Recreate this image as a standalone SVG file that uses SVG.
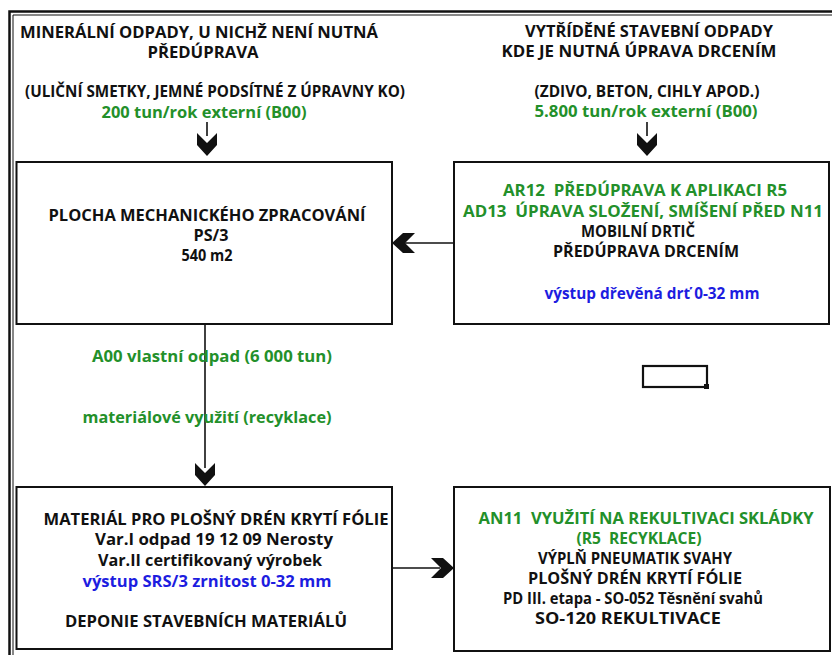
<svg xmlns="http://www.w3.org/2000/svg" width="832" height="655" viewBox="0 0 832 655">
<style>
text{font-family:"Open Sans","Liberation Sans",sans-serif;font-weight:700;font-size:15.5px;fill:#111;text-anchor:middle;white-space:pre}
.g{fill:#23902a}
.b{fill:#1d1de0}
.box{fill:#fff;stroke:#111;stroke-width:2}
.ln{stroke:#111;stroke-width:1.6;fill:none}
.ah{fill:#111}
</style>
<rect width="832" height="655" fill="#fff"/>
<g id="frame">
<path d="M9.5,655 V11.5 H832" fill="none" stroke="#111" stroke-width="2.5"/>
<path d="M13,655 V15 H832" fill="none" stroke="#111" stroke-width="1"/>
</g>
<g id="connectors">
<line class="ln" x1="207" y1="122" x2="207" y2="136"/>
<polygon class="ah" points="197,133 207,143 217,133 217,145 207,156 197,145"/>
<line class="ln" x1="647" y1="122" x2="647" y2="136"/>
<polygon class="ah" points="637,133 647,143 657,133 657,145 647,156 637,145"/>
<line class="ln" x1="454" y1="243" x2="405" y2="243"/>
<polygon class="ah" points="415,233 405,243 415,253 403,253 392,243 403,233"/>
<line class="ln" x1="205" y1="324" x2="205" y2="468"/>
<polygon class="ah" points="195,463 205,473 215,463 215,475 205,486 195,475"/>
<line class="ln" x1="392" y1="568" x2="440" y2="568"/>
<polygon class="ah" points="431,558 441,568 431,578 443,578 454,568 443,558"/>
</g>
<g id="src-left">
<text x="199" y="38" textLength="358" lengthAdjust="spacingAndGlyphs">MINERÁLNÍ ODPADY, U NICHŽ NENÍ NUTNÁ</text>
<text x="203" y="58" textLength="111" lengthAdjust="spacingAndGlyphs">PŘEDÚPRAVA</text>
<text x="215" y="97" textLength="380" lengthAdjust="spacingAndGlyphs">(ULIČNÍ SMETKY, JEMNÉ PODSÍTNÉ Z ÚPRAVNY KO)</text>
<text class="g" x="204" y="118" textLength="205" lengthAdjust="spacingAndGlyphs">200 tun/rok externí (B00)</text>
</g>
<g id="src-right">
<text x="649" y="37" textLength="248" lengthAdjust="spacingAndGlyphs">VYTŘÍDĚNÉ STAVEBNÍ ODPADY</text>
<text x="639" y="57" textLength="275" lengthAdjust="spacingAndGlyphs">KDE JE NUTNÁ ÚPRAVA DRCENÍM</text>
<text x="647" y="97" textLength="225" lengthAdjust="spacingAndGlyphs">(ZDIVO, BETON, CIHLY APOD.)</text>
<text class="g" x="646" y="117" textLength="223" lengthAdjust="spacingAndGlyphs">5.800 tun/rok externí (B00)</text>
</g>
<g id="plocha">
<rect class="box" x="16.5" y="162" width="375.5" height="162"/>
<text x="207" y="221" textLength="317" lengthAdjust="spacingAndGlyphs">PLOCHA MECHANICKÉHO ZPRACOVÁNÍ</text>
<text x="211" y="241" textLength="35" lengthAdjust="spacingAndGlyphs">PS/3</text>
<text x="207" y="261" textLength="51" lengthAdjust="spacingAndGlyphs">540 m2</text>
</g>
<g id="drtic">
<rect class="box" x="454" y="162" width="375" height="162"/>
<text class="g" x="645" y="196" textLength="284" lengthAdjust="spacingAndGlyphs">AR12  PŘEDÚPRAVA K APLIKACI R5</text>
<text class="g" x="643" y="217" textLength="360" lengthAdjust="spacingAndGlyphs">AD13  ÚPRAVA SLOŽENÍ, SMÍŠENÍ PŘED N11</text>
<text x="638" y="237" textLength="114" lengthAdjust="spacingAndGlyphs">MOBILNÍ DRTIČ</text>
<text x="646" y="257" textLength="186" lengthAdjust="spacingAndGlyphs">PŘEDÚPRAVA DRCENÍM</text>
<text class="b" x="652" y="299" textLength="215" lengthAdjust="spacingAndGlyphs">výstup dřevěná drť 0-32 mm</text>
</g>
<g id="labels">
<text class="g" x="212" y="362" textLength="240" lengthAdjust="spacingAndGlyphs">A00 vlastní odpad (6 000 tun)</text>
<text class="g" x="207" y="423" textLength="249" lengthAdjust="spacingAndGlyphs">materiálové využití (recyklace)</text>
</g>
<g id="small-rect">
<rect x="643" y="366" width="64" height="21" fill="none" stroke="#111" stroke-width="2.2"/>
<rect x="704" y="384" width="5" height="5" fill="#111"/>
</g>
<g id="material">
<rect class="box" x="16.5" y="487" width="375.5" height="162"/>
<text x="216" y="525" textLength="345" lengthAdjust="spacingAndGlyphs">MATERIÁL PRO PLOŠNÝ DRÉN KRYTÍ FÓLIE</text>
<text x="214" y="545" textLength="238" lengthAdjust="spacingAndGlyphs">Var.I odpad 19 12 09 Nerosty</text>
<text x="210" y="566" textLength="224" lengthAdjust="spacingAndGlyphs">Var.II certifikovaný výrobek</text>
<text class="b" x="207" y="587" textLength="249" lengthAdjust="spacingAndGlyphs">výstup SRS/3 zrnitost 0-32 mm</text>
<text x="206" y="627" textLength="282" lengthAdjust="spacingAndGlyphs">DEPONIE STAVEBNÍCH MATERIÁLŮ</text>
</g>
<g id="rekultivace">
<rect class="box" x="454" y="487" width="376" height="164"/>
<text class="g" x="646" y="524" textLength="335" lengthAdjust="spacingAndGlyphs">AN11  VYUŽITÍ NA REKULTIVACI SKLÁDKY</text>
<text class="g" x="639" y="544" textLength="125" lengthAdjust="spacingAndGlyphs">(R5  RECYKLACE)</text>
<text x="635" y="564" textLength="194" lengthAdjust="spacingAndGlyphs">VÝPLŇ PNEUMATIK SVAHY</text>
<text x="635" y="584" textLength="214" lengthAdjust="spacingAndGlyphs">PLOŠNÝ DRÉN KRYTÍ FÓLIE</text>
<text x="633" y="604" textLength="260" lengthAdjust="spacingAndGlyphs">PD III. etapa - SO-052 Těsnění svahů</text>
<text x="628" y="624" textLength="186" lengthAdjust="spacingAndGlyphs">SO-120 REKULTIVACE</text>
</g>
</svg>
